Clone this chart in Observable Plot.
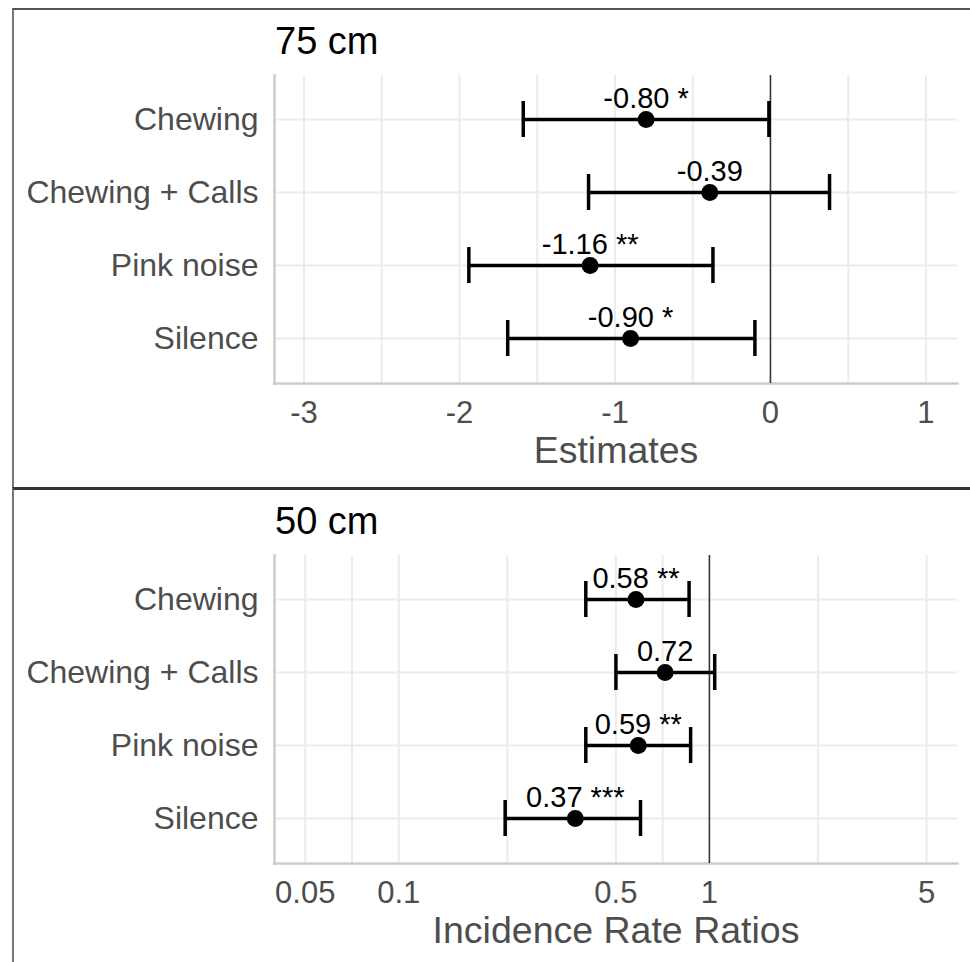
<!DOCTYPE html>
<html>
<head>
<meta charset="utf-8">
<script src="https://cdn.jsdelivr.net/npm/d3@7"></script>
<script src="https://cdn.jsdelivr.net/npm/@observablehq/plot@0.6"></script>
<style>
  html, body { margin: 0; padding: 0; background: #fff; }
  body { position: relative; width: 970px; height: 962px; overflow: hidden;
         font-family: "Liberation Sans", Arial, Helvetica, sans-serif; }
  .abs { position: absolute; }
  .title { font-size: 38px; line-height: 38px; color: #000; white-space: nowrap; }
</style>
</head>
<body>
<div id="root"></div>
<script>
// ---- data ----
const terms = ["Chewing", "Chewing + Calls", "Pink noise", "Silence"];

const est75 = [-0.80, -0.39, -1.16, -0.90];
const lo75  = [-1.59, -1.17, -1.94, -1.69];
const hi75  = [-0.01,  0.38, -0.37, -0.10];
const stars75 = ["*", "", "**", "*"];

const irr50 = [0.58, 0.72, 0.59, 0.37];
const lo50  = [0.40, 0.50, 0.40, 0.22];
const hi50  = [0.86, 1.04, 0.87, 0.60];
const stars50 = ["**", "", "**", "***"];

const ticks75 = [-3, -2, -1, 0, 1];
const grid75 = [-3, -2.5, -2, -1.5, -1, -0.5, 0, 0.5, 1];
const ticks50 = [0.05, 0.1, 0.5, 1, 5];
const grid50 = [0.05, 0.0707, 0.1, 0.2236, 0.5, 0.7071, 1, 2.236, 5];

const panels = [
  {title: "75 cm", xlabel: "Estimates", est: est75, lo: lo75, hi: hi75, stars: stars75,
   ticks: ticks75, grid: grid75, ref: 0, x: {type: "linear", domain: [-3.19, 1.203]}},
  {title: "50 cm", xlabel: "Incidence Rate Ratios", est: irr50, lo: lo50, hi: hi50, stars: stars50,
   ticks: ticks50, grid: grid50, ref: 1, x: {type: "log", domain: [0.0398, 6.29]}}
];

const root = document.getElementById("root");
const font = "'Liberation Sans', Arial, Helvetica, sans-serif";

panels.forEach((p, i) => {
  const off = i * 480;
  const rows = terms.map((t, j) => ({
    term: t, est: p.est[j], lo: p.lo[j], hi: p.hi[j],
    label: p.est[j].toFixed(2) + (p.stars[j] ? " " + p.stars[j] : "")
  }));

  // panel border
  const border = document.createElement("div");
  border.className = "abs";
  Object.assign(border.style, {
    left: "12px", top: (i === 0 ? 8 : 487) + "px", width: "958px",
    height: (i === 0 ? 480 : 475) + "px", boxSizing: "border-box",
    borderTop: i === 0 ? "2px solid #555" : "3px solid #333",
    borderLeft: "2px solid #777"
  });
  root.appendChild(border);

  const chart = Plot.plot({
    width: 970, height: 480,
    marginLeft: 274, marginRight: 13, marginTop: 75, marginBottom: 97,
    style: {fontFamily: font, background: "transparent", overflow: "visible"},
    x: {...p.x, axis: null},
    y: {type: "band", domain: terms, padding: 0.2},
    marks: [
      Plot.ruleX(p.grid, {stroke: "#ebebeb", strokeWidth: 2}),
      Plot.ruleY(terms, {y: d => d, stroke: "#ebebeb", strokeWidth: 2}),
      Plot.frame({anchor: "left", stroke: "#cccccc", strokeWidth: 2.5}),
      Plot.frame({anchor: "bottom", stroke: "#cccccc", strokeWidth: 2.5}),
      Plot.ruleX([p.ref], {stroke: "#333", strokeWidth: 1.5}),
      Plot.ruleY(rows, {y: "term", x1: "lo", x2: "hi", stroke: "#000", strokeWidth: 3.5}),
      Plot.tickX(rows, {x: "lo", y: "term", stroke: "#000", strokeWidth: 3.5, insetTop: 11, insetBottom: 11}),
      Plot.tickX(rows, {x: "hi", y: "term", stroke: "#000", strokeWidth: 3.5, insetTop: 11, insetBottom: 11}),
      Plot.dot(rows, {x: "est", y: "term", r: 8.5, fill: "#000", stroke: null}),
      Plot.text(rows, {x: "est", y: "term", text: "label", dy: -12, lineAnchor: "bottom",
                       fontSize: 29, fill: "#000"}),
      Plot.axisY({tickSize: 0, tickPadding: 16, fontSize: 32, color: "#4d4d4d", label: null}),
      // x tick labels (drawn at the scale's positions)
      Plot.text(p.ticks, {x: d => d, frameAnchor: "bottom", text: d => String(d), dy: 17,
                          lineAnchor: "top", fontSize: 31, fill: "#4d4d4d"}),
      Plot.text([p.xlabel], {frameAnchor: "bottom", text: d => d, dy: 79, lineAnchor: "bottom",
                             fontSize: 37.5, fill: "#4d4d4d"})
    ]
  });
  chart.classList.add("abs");
  chart.style.left = "0px";
  chart.style.top = off + "px";
  root.appendChild(chart);

  const title = document.createElement("div");
  title.className = "abs title";
  title.style.left = "275px";
  title.style.top = (22 + off) + "px";
  title.textContent = p.title;
  root.appendChild(title);
});
</script>
</body>
</html>
